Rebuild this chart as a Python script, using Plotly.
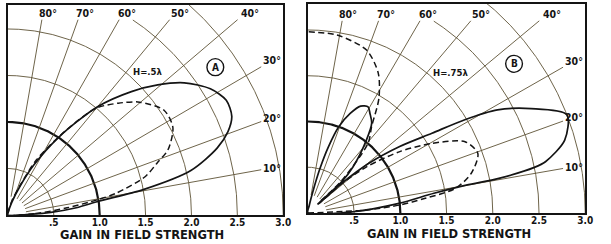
import numpy as np
import plotly.graph_objects as go

# ---------------- data ----------------
TICK_VALS = [0.5, 1.0, 1.5, 2.0, 2.5, 3.0]
TICK_TEXT = [".5", "1.0", "1.5", "2.0", "2.5", "3.0"]
ARC_R = [0.5, 1.0, 1.5, 2.0, 2.5, 3.0]
SPOKE_DEG = [10, 20, 30, 40, 50, 60, 70, 80]
SPOKE_TEXT = ["10°", "20°", "30°", "40°", "50°", "60°", "70°", "80°"]
AXIS_TITLE = "GAIN IN FIELD STRENGTH"

# Panel A : H = .5 lambda
A_LABEL = "H=.5λ"
A_SOLID_DEG = [0, 1.5, 3.5, 6, 8.5, 10.5, 13.5, 17.5, 20.5, 23.5, 27.4, 31.6, 36.5,
               40.6, 44.6, 50, 56.4, 62.4, 67, 73, 80, 90]
A_SOLID_R = [0, 0.2, 0.47, 0.75, 1.0, 1.5, 2.05, 2.39, 2.56, 2.66, 2.68, 2.59, 2.39,
             2.15, 1.89, 1.52, 1.01, 0.6, 0.33, 0.14, 0.04, 0]
A_DASH_DEG = [0, 3, 6.8, 9.6, 11.2, 15.4, 19, 21.9, 27.7, 33.5, 40.2, 45, 50, 55.3,
              62.3, 67, 74, 82, 90]
A_DASH_R = [0, 0.3, 0.65, 1.0, 1.2, 1.55, 1.72, 1.88, 2.03, 2.04, 1.88, 1.7, 1.5, 1.1,
            0.67, 0.36, 0.16, 0.04, 0]

# Panel B : H = .75 lambda
B_LABEL = "H=.75λ"
B_SOLID_DEG = [0, 1.6, 6.1, 9, 10.1, 10.4, 11.5, 12.3, 16, 21, 25.3, 28.8, 31, 33,
               36.2, 39.5, 41.5, 42, 42.5, 43, 45.9, 51.6, 54.9, 58.4, 60.7, 64,
               67.2, 70.5, 73, 75, 77, 80, 90]
B_SOLID_R = [0, 0.49, 0.99, 1.38, 1.74, 2.1, 2.5, 2.63, 2.89, 3.0, 2.67, 2.34, 1.98, 1.6,
             1.23, 0.85, 0.5, 0.15, 0.15, 0.5, 0.7, 1.02, 1.2, 1.28, 1.33, 1.3,
             1.18, 1.0, 0.75, 0.5, 0.25, 0.08, 0]
B_DASH_DEG = [0, 3, 5, 7.2, 9.6, 13.8, 19.5, 24.6, 29.6, 34, 38.5, 41, 41.8, 42.5, 44,
              49.5, 53.9, 58.5, 63.6, 70.4, 80.8, 90]
B_DASH_R = [0, 0.64, 0.99, 1.28, 1.62, 1.82, 1.95, 1.87, 1.54, 1.2, 0.81, 0.5, 0.15,
            0.15, 0.5, 1.0, 1.17, 1.47, 1.71, 1.89, 1.97, 1.98]

# ---------------- styling ----------------
W, H = 611, 244
GRID = "#5e5236"
INK = "#141414"
FONT = "DejaVu Sans Condensed, DejaVu Sans"

panels = [
    dict(xs="x", ys="y", xa="xaxis", ya="yaxis", px=(8, 287), py=(5, 215), ymax=2.258,
         solid=(A_SOLID_DEG, A_SOLID_R), dash=(A_DASH_DEG, A_DASH_R), label=A_LABEL,
         letter="A", lab_xy=(1.53, 1.54), circ=(2.26, 1.59), title_x=144, title_y=235),
    dict(xs="x2", ys="y2", xa="xaxis2", ya="yaxis2", px=(312, 593), py=(4, 213), ymax=2.284,
         solid=(B_SOLID_DEG, B_SOLID_R), dash=(B_DASH_DEG, B_DASH_R), label=B_LABEL,
         letter="B", lab_xy=(1.54, 1.54), circ=(2.23, 1.63), title_x=455, title_y=234),
]


def to_xy(deg, r):
    t = np.radians(np.asarray(deg, dtype=float))
    r = np.asarray(r, dtype=float)
    return r * np.cos(t), r * np.sin(t)


fig = go.Figure()
annotations = []
shapes = []

for p in panels:
    xs, ys = p["xs"], p["ys"]
    # arcs
    th = np.linspace(0, 90, 361)
    for r in ARC_R:
        x, y = to_xy(th, np.full_like(th, r))
        if r < 2.9:
            keep = y <= 2.1
            x, y = x[keep], y[keep]
        thick = (r == 1.0)
        fig.add_trace(go.Scatter(x=x, y=y, mode="lines", xaxis=xs, yaxis=ys,
                                 line=dict(color=INK if thick else GRID,
                                           width=2.2 if thick else 0.9),
                                 hoverinfo="skip", showlegend=False))
    # spokes
    for d, txt in zip(SPOKE_DEG, SPOKE_TEXT):
        t = np.radians(d)
        if d >= 40:
            r_end = 2.1 / np.sin(t)
            lx, ly = 2.17 / np.tan(t) + 0.05, 2.17
        else:
            r_end = 2.76 / np.cos(t)
            lx, ly = 2.88, 2.88 * np.tan(t)
        x, y = to_xy([d, d], [0.2, r_end])
        fig.add_trace(go.Scatter(x=x, y=y, mode="lines", xaxis=xs, yaxis=ys,
                                 line=dict(color=GRID, width=0.9),
                                 hoverinfo="skip", showlegend=False))
        annotations.append(dict(x=lx, y=ly, xref=xs, yref=ys, text=txt, showarrow=False,
                                xanchor="center", yanchor="middle",
                                font=dict(family=FONT, size=10.5, color=INK, weight="bold")))
    # patterns
    x, y = to_xy(*p["dash"])
    fig.add_trace(go.Scatter(x=x, y=y, mode="lines", xaxis=xs, yaxis=ys,
                             line=dict(color=INK, width=1.5, dash="6px,3.5px",
                                       shape="spline", smoothing=0.8),
                             hoverinfo="skip", showlegend=False))
    x, y = to_xy(*p["solid"])
    fig.add_trace(go.Scatter(x=x, y=y, mode="lines", xaxis=xs, yaxis=ys,
                             line=dict(color=INK, width=1.7, shape="spline", smoothing=0.8),
                             hoverinfo="skip", showlegend=False))
    # H label and circled letter
    annotations.append(dict(x=p["lab_xy"][0], y=p["lab_xy"][1], xref=xs, yref=ys,
                            text=p["label"], showarrow=False,
                            xanchor="center", yanchor="middle",
                            font=dict(family=FONT, size=9.5, color=INK, weight="bold")))
    annotations.append(dict(x=p["circ"][0], y=p["circ"][1], xref=xs, yref=ys,
                            text=p["letter"], showarrow=False,
                            xanchor="center", yanchor="middle",
                            font=dict(family=FONT, size=10, color=INK, weight="bold")))
    rx = 8.5 / ((p["px"][1] - p["px"][0]) / 3.0)
    ry = 8.5 / ((p["py"][1] - p["py"][0]) / p["ymax"])
    shapes.append(dict(type="circle", xref=xs, yref=ys,
                       x0=p["circ"][0] - rx, x1=p["circ"][0] + rx,
                       y0=p["circ"][1] - ry, y1=p["circ"][1] + ry,
                       line=dict(color=INK, width=1.4)))
    # axis title
    annotations.append(dict(x=p["title_x"] / W, y=(H - p["title_y"]) / H,
                            xref="paper", yref="paper", xanchor="center", yanchor="middle",
                            text=AXIS_TITLE, showarrow=False,
                            font=dict(family="DejaVu Sans", size=11.5, color=INK,
                                      weight="bold")))
    # axes
    fig.update_layout(**{
        p["xa"]: dict(domain=[p["px"][0] / W, p["px"][1] / W], range=[0, 3],
                      showgrid=False, zeroline=False, showline=True, mirror=True,
                      linecolor=INK, linewidth=1.5, ticks="", ticklabelstandoff=-3,
                      tickvals=TICK_VALS, ticktext=TICK_TEXT,
                      tickfont=dict(family=FONT, size=10, color=INK, weight="bold"),
                      anchor=ys, fixedrange=True),
        p["ya"]: dict(domain=[(H - p["py"][1]) / H, (H - p["py"][0]) / H],
                      range=[0, p["ymax"]], showgrid=False, zeroline=False,
                      showline=True, mirror=True, linecolor=INK, linewidth=1.5,
                      ticks="", showticklabels=False, anchor=xs, fixedrange=True),
    })

fig.update_layout(width=W, height=H, margin=dict(l=0, r=0, t=0, b=0),
                  paper_bgcolor="white", plot_bgcolor="white",
                  annotations=annotations, shapes=shapes, showlegend=False)

fig.write_html("out.html", config={"displayModeBar": False},
               post_script="document.body.style.margin='0';")
